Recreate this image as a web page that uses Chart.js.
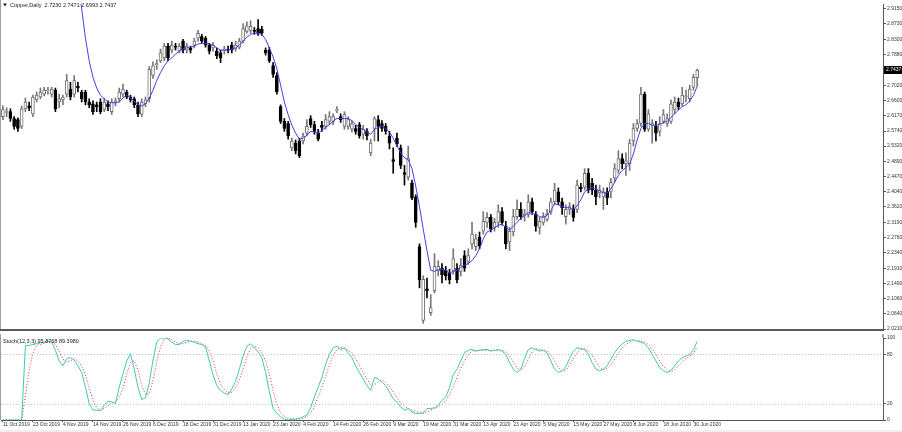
<!DOCTYPE html>
<html>
<head>
<meta charset="utf-8">
<script src="https://cdn.jsdelivr.net/npm/chart.js@4.4.1/dist/chart.umd.min.js"></script>
<style>
  html, body { margin: 0; padding: 0; background: #fff; }
  #wrap { position: relative; width: 902px; height: 432px; overflow: hidden; }
  canvas { position: absolute; left: 0; }
  #main { top: 0; }
  #stoch { top: 334px; }
</style>
</head>
<body>
<div id="wrap">
  <canvas id="main" width="902" height="334"></canvas>
  <canvas id="stoch" width="902" height="98"></canvas>
</div>
<script>
// Copper daily candles, 11 Oct 2019 - 1 Jul 2020
const symbolName = 'Copper,Daily';
const stochName = 'Stoch(12,3,3)';
const totalSlots = 235; // chart shift leaves empty space on the right

// date labels, one every 8 bars
const dateTicks = ['11 Oct 2019', '23 Oct 2019', '4 Nov 2019', '14 Nov 2019', '26 Nov 2019', '6 Dec 2019',
  '18 Dec 2019', '31 Dec 2019', '13 Jan 2020', '23 Jan 2020', '4 Feb 2020', '14 Feb 2020', '26 Feb 2020',
  '9 Mar 2020', '19 Mar 2020', '31 Mar 2020', '13 Apr 2020', '23 Apr 2020', '5 May 2020', '15 May 2020',
  '27 May 2020', '8 Jun 2020', '18 Jun 2020', '30 Jun 2020'];

const priceTicks = ['2.9150', '2.8730', '2.8300', '2.7880', '2.7020', '2.6600', '2.6170', '2.5740', '2.5320',
  '2.4890', '2.4470', '2.4040', '2.3620', '2.3190', '2.2760', '2.2340', '2.1910', '2.1490', '2.1060',
  '2.0640', '2.0210'];
const priceMin = 2.0183;
const priceMax = 2.9287;

const stochTicks = [0, 20, 80, 100];
const stochLevels = [20, 80];

const opens = [
  2.614, 2.626, 2.628, 2.609, 2.606, 2.587, 2.636, 2.644, 2.622, 2.661,
  2.669, 2.677, 2.686, 2.677, 2.688, 2.655, 2.661, 2.677, 2.691, 2.677,
  2.699, 2.683, 2.683, 2.655, 2.650, 2.647, 2.655, 2.634, 2.650, 2.628,
  2.655, 2.664, 2.677, 2.683, 2.669, 2.664, 2.647, 2.620, 2.650, 2.664,
  2.729, 2.759, 2.770, 2.778, 2.811, 2.800, 2.811, 2.797, 2.825, 2.800,
  2.806, 2.814, 2.833, 2.838, 2.833, 2.814, 2.806, 2.797, 2.792, 2.800,
  2.803, 2.814, 2.803, 2.808, 2.825, 2.852, 2.855, 2.855, 2.860, 2.858,
  2.800, 2.800, 2.757, 2.729, 2.642, 2.601, 2.595, 2.527, 2.540, 2.546,
  2.546, 2.568, 2.609, 2.592, 2.568, 2.590, 2.587, 2.601, 2.601, 2.631,
  2.614, 2.587, 2.587, 2.579, 2.581, 2.592, 2.565, 2.573, 2.513, 2.581,
  2.606, 2.595, 2.587, 2.560, 2.494, 2.554, 2.527, 2.458, 2.445, 2.428,
  2.390, 2.251, 2.045, 2.133, 2.067, 2.128, 2.183, 2.191, 2.185, 2.177,
  2.185, 2.191, 2.182, 2.226, 2.210, 2.259, 2.251, 2.278, 2.294, 2.319,
  2.333, 2.305, 2.319, 2.349, 2.308, 2.264, 2.292, 2.335, 2.355, 2.338,
  2.341, 2.376, 2.341, 2.305, 2.319, 2.327, 2.349, 2.376, 2.404, 2.376,
  2.335, 2.355, 2.355, 2.355, 2.417, 2.417, 2.456, 2.428, 2.409, 2.401,
  2.390, 2.404, 2.404, 2.442, 2.464, 2.497, 2.483, 2.483, 2.546, 2.581,
  2.595, 2.677, 2.579, 2.590, 2.587, 2.573, 2.601, 2.595, 2.601, 2.634,
  2.655, 2.650, 2.669, 2.664, 2.696, 2.7230
];
const highs = [
  2.644, 2.639, 2.636, 2.614, 2.611, 2.644, 2.666, 2.655, 2.674, 2.683,
  2.694, 2.696, 2.696, 2.696, 2.694, 2.677, 2.674, 2.732, 2.710, 2.729,
  2.710, 2.688, 2.688, 2.664, 2.658, 2.655, 2.664, 2.666, 2.658, 2.664,
  2.666, 2.694, 2.705, 2.688, 2.674, 2.669, 2.655, 2.664, 2.669, 2.754,
  2.767, 2.773, 2.803, 2.819, 2.819, 2.825, 2.819, 2.819, 2.830, 2.819,
  2.811, 2.833, 2.855, 2.844, 2.838, 2.819, 2.822, 2.806, 2.800, 2.811,
  2.811, 2.822, 2.825, 2.833, 2.874, 2.879, 2.882, 2.863, 2.885, 2.866,
  2.806, 2.808, 2.765, 2.737, 2.647, 2.609, 2.601, 2.554, 2.549, 2.554,
  2.568, 2.606, 2.617, 2.601, 2.579, 2.601, 2.620, 2.628, 2.622, 2.642,
  2.622, 2.628, 2.614, 2.603, 2.590, 2.598, 2.590, 2.581, 2.551, 2.614,
  2.617, 2.603, 2.595, 2.573, 2.527, 2.568, 2.535, 2.478, 2.532, 2.437,
  2.396, 2.259, 2.170, 2.163, 2.117, 2.232, 2.212, 2.204, 2.196, 2.188,
  2.245, 2.204, 2.218, 2.240, 2.245, 2.319, 2.286, 2.292, 2.349, 2.346,
  2.341, 2.330, 2.368, 2.360, 2.322, 2.305, 2.355, 2.382, 2.374, 2.355,
  2.396, 2.387, 2.349, 2.333, 2.346, 2.355, 2.387, 2.428, 2.415, 2.387,
  2.368, 2.374, 2.368, 2.437, 2.428, 2.469, 2.469, 2.442, 2.423, 2.423,
  2.415, 2.415, 2.442, 2.483, 2.519, 2.510, 2.513, 2.551, 2.595, 2.606,
  2.696, 2.683, 2.634, 2.606, 2.601, 2.614, 2.634, 2.622, 2.661, 2.669,
  2.666, 2.696, 2.688, 2.702, 2.732, 2.7471
];
const lows = [
  2.606, 2.614, 2.601, 2.579, 2.573, 2.581, 2.628, 2.631, 2.614, 2.655,
  2.664, 2.672, 2.677, 2.669, 2.628, 2.639, 2.647, 2.669, 2.661, 2.669,
  2.683, 2.655, 2.647, 2.639, 2.620, 2.628, 2.622, 2.628, 2.631, 2.620,
  2.644, 2.655, 2.669, 2.664, 2.655, 2.639, 2.614, 2.614, 2.642, 2.655,
  2.721, 2.746, 2.765, 2.770, 2.770, 2.792, 2.800, 2.792, 2.792, 2.792,
  2.792, 2.806, 2.825, 2.819, 2.808, 2.789, 2.797, 2.776, 2.765, 2.789,
  2.792, 2.792, 2.797, 2.803, 2.819, 2.847, 2.847, 2.844, 2.841, 2.841,
  2.786, 2.765, 2.724, 2.677, 2.595, 2.573, 2.551, 2.519, 2.510, 2.500,
  2.538, 2.560, 2.584, 2.565, 2.546, 2.573, 2.579, 2.592, 2.592, 2.625,
  2.598, 2.579, 2.579, 2.571, 2.565, 2.554, 2.551, 2.549, 2.505, 2.546,
  2.546, 2.573, 2.565, 2.524, 2.456, 2.530, 2.469, 2.423, 2.437, 2.382,
  2.305, 2.136, 2.037, 2.108, 2.059, 2.122, 2.169, 2.150, 2.158, 2.147,
  2.174, 2.150, 2.169, 2.182, 2.201, 2.245, 2.240, 2.245, 2.286, 2.305,
  2.292, 2.294, 2.305, 2.311, 2.245, 2.240, 2.281, 2.327, 2.327, 2.322,
  2.333, 2.341, 2.294, 2.286, 2.311, 2.322, 2.341, 2.368, 2.368, 2.341,
  2.314, 2.341, 2.322, 2.346, 2.404, 2.409, 2.401, 2.396, 2.368, 2.387,
  2.355, 2.368, 2.387, 2.431, 2.456, 2.469, 2.450, 2.464, 2.532, 2.573,
  2.587, 2.573, 2.573, 2.540, 2.546, 2.560, 2.595, 2.587, 2.595, 2.622,
  2.634, 2.644, 2.655, 2.655, 2.688, 2.6993
];
const closes = [
  2.634, 2.628, 2.609, 2.587, 2.581, 2.636, 2.655, 2.639, 2.669, 2.674,
  2.683, 2.688, 2.688, 2.691, 2.636, 2.664, 2.669, 2.715, 2.669, 2.715,
  2.694, 2.664, 2.655, 2.647, 2.628, 2.642, 2.628, 2.655, 2.642, 2.655,
  2.658, 2.683, 2.691, 2.669, 2.661, 2.647, 2.622, 2.655, 2.661, 2.746,
  2.756, 2.762, 2.792, 2.811, 2.778, 2.814, 2.808, 2.811, 2.800, 2.811,
  2.800, 2.825, 2.847, 2.825, 2.814, 2.797, 2.814, 2.784, 2.778, 2.803,
  2.800, 2.800, 2.814, 2.825, 2.860, 2.868, 2.866, 2.852, 2.847, 2.847,
  2.792, 2.770, 2.732, 2.683, 2.601, 2.581, 2.560, 2.546, 2.519, 2.505,
  2.560, 2.587, 2.592, 2.573, 2.551, 2.584, 2.606, 2.614, 2.614, 2.634,
  2.606, 2.620, 2.606, 2.595, 2.573, 2.560, 2.579, 2.560, 2.540, 2.609,
  2.587, 2.581, 2.573, 2.540, 2.489, 2.538, 2.478, 2.453, 2.497, 2.387,
  2.319, 2.158, 2.160, 2.128, 2.081, 2.196, 2.196, 2.172, 2.169, 2.158,
  2.218, 2.158, 2.199, 2.191, 2.226, 2.286, 2.273, 2.254, 2.322, 2.333,
  2.300, 2.319, 2.349, 2.319, 2.259, 2.294, 2.335, 2.355, 2.335, 2.341,
  2.376, 2.349, 2.308, 2.322, 2.335, 2.341, 2.376, 2.409, 2.376, 2.360,
  2.355, 2.363, 2.333, 2.423, 2.412, 2.456, 2.409, 2.409, 2.390, 2.409,
  2.404, 2.387, 2.431, 2.469, 2.497, 2.483, 2.491, 2.540, 2.581, 2.595,
  2.677, 2.579, 2.622, 2.595, 2.568, 2.595, 2.620, 2.609, 2.650, 2.655,
  2.642, 2.674, 2.672, 2.691, 2.724, 2.7437
];

// blue moving average on the price window (starts above the top edge)
const maLine = [
  null, null, null, null, null, null, null, null, null, null,
  null, null, null, null, null, null, null, null, null, null,
  2.990, 2.915, 2.833, 2.770, 2.724, 2.694, 2.674, 2.664, 2.655, 2.653,
  2.653, 2.655, 2.666, 2.674, 2.666, 2.658, 2.647, 2.644, 2.650, 2.666,
  2.688, 2.715, 2.737, 2.756, 2.770, 2.778, 2.789, 2.797, 2.803, 2.806,
  2.808, 2.811, 2.817, 2.819, 2.819, 2.817, 2.814, 2.806, 2.800, 2.800,
  2.800, 2.803, 2.806, 2.814, 2.825, 2.836, 2.844, 2.847, 2.847, 2.844,
  2.830, 2.806, 2.781, 2.748, 2.702, 2.655, 2.620, 2.590, 2.568, 2.551,
  2.554, 2.562, 2.573, 2.571, 2.568, 2.576, 2.584, 2.592, 2.601, 2.609,
  2.609, 2.609, 2.609, 2.603, 2.592, 2.584, 2.579, 2.571, 2.565, 2.579,
  2.584, 2.587, 2.581, 2.571, 2.554, 2.532, 2.513, 2.499, 2.494, 2.469,
  2.420, 2.363, 2.300, 2.240, 2.185, 2.182, 2.188, 2.188, 2.185, 2.177,
  2.182, 2.185, 2.193, 2.199, 2.204, 2.212, 2.226, 2.245, 2.273, 2.292,
  2.297, 2.303, 2.311, 2.314, 2.305, 2.297, 2.308, 2.319, 2.330, 2.338,
  2.346, 2.344, 2.341, 2.335, 2.333, 2.338, 2.352, 2.371, 2.368, 2.363,
  2.360, 2.360, 2.355, 2.365, 2.382, 2.404, 2.412, 2.415, 2.412, 2.407,
  2.401, 2.401, 2.412, 2.431, 2.450, 2.464, 2.472, 2.483, 2.510, 2.549,
  2.581, 2.595, 2.595, 2.590, 2.590, 2.592, 2.598, 2.601, 2.612, 2.622,
  2.633, 2.642, 2.647, 2.658, 2.674, 2.699
];

// stochastic %K (main) and %D (signal)
const stochK = [
  0, 0, 0, 0, 0, 0, 91, 91, 92, 93,
  94, 95, 96, 95, 85, 72, 66, 75, 76, 73,
  66, 58, 40, 20, 12, 12, 11, 18, 23, 22,
  20, 40, 56, 72, 81, 62, 40, 25, 27, 45,
  73, 95, 100, 100, 99, 95, 92, 92, 96, 97,
  96, 95, 93, 92, 89, 72, 55, 42, 36, 33,
  31, 38, 47, 62, 78, 90, 93, 88, 83, 76,
  58, 35, 14, 8, 4, 1, 0, 1, 1, 2,
  4, 6, 15, 28, 40, 52, 68, 80, 88, 90,
  86, 88, 82, 76, 66, 58, 50, 42, 36, 52,
  50, 46, 42, 34, 26, 22, 16, 12, 14, 10,
  8, 8, 9, 14, 14, 15, 18, 24, 28, 40,
  55, 62, 72, 82, 85, 86, 84, 85, 86, 86,
  84, 85, 86, 84, 80, 70, 62, 58, 62, 75,
  86, 88, 86, 84, 85, 82, 72, 62, 58, 60,
  65, 75, 84, 88, 87, 86, 80, 70, 62, 60,
  62, 66, 74, 82, 88, 93, 96, 97, 98, 96,
  95, 93, 88, 80, 72, 64, 60, 58, 60, 66,
  72, 76, 78, 80, 86, 95.8768
];
const stochD = [
  0, 0, 0, 0, 0, 0, 30, 61, 81, 91,
  92, 94, 95, 95, 92, 84, 74, 71, 72, 75,
  72, 66, 55, 39, 24, 15, 12, 14, 17, 21,
  22, 27, 39, 56, 70, 72, 61, 42, 31, 32,
  48, 71, 89, 98, 100, 98, 95, 93, 93, 95,
  96, 96, 95, 93, 91, 84, 72, 56, 44, 37,
  33, 34, 39, 49, 62, 77, 87, 90, 88, 82,
  72, 56, 36, 19, 9, 4, 2, 1, 1, 1,
  2, 4, 8, 16, 28, 40, 53, 67, 79, 86,
  88, 88, 85, 82, 75, 67, 58, 50, 43, 43,
  46, 49, 46, 41, 34, 27, 21, 17, 14, 12,
  11, 9, 8, 10, 12, 14, 16, 19, 23, 31,
  41, 52, 63, 72, 80, 84, 85, 85, 85, 85,
  85, 85, 85, 85, 83, 78, 71, 63, 61, 65,
  74, 83, 87, 86, 85, 84, 80, 72, 64, 60,
  61, 67, 75, 82, 86, 87, 84, 79, 71, 64,
  61, 63, 67, 74, 81, 88, 92, 95, 97, 97,
  96, 95, 92, 87, 80, 72, 65, 61, 59, 61,
  66, 71, 75, 78, 81, 89.398
];

const axisFont = { family: 'Liberation Sans', size: 5 };
const axisColor = '#555';
const labelColor = '#333';
const last = closes.length - 1;

// category slots: a date on every 8th bar, blanks elsewhere
const slotLabels = [];
for (let i = 0; i < totalSlots; i++) {
  slotLabels.push(i % 8 === 0 && dateTicks[i / 8] ? dateTicks[i / 8] : '');
}

const isUp = closes.map((c, i) => c >= opens[i]);
const bodies = closes.map((c, i) => [Math.min(opens[i], c), Math.max(opens[i], c)]);
const wicks = lows.map((l, i) => [l, highs[i]]);

const mainDecor = {
  id: 'mainDecor',
  afterDraw(chart) {
    const { ctx, chartArea: a, scales: { y } } = chart;
    ctx.save();
    // left frame and window separator
    ctx.fillStyle = '#a0a0a0';
    ctx.fillRect(0, 0, 1, a.bottom);
    ctx.fillStyle = '#5a5a5a';
    ctx.fillRect(0, a.bottom - 1, a.right, 2);

    // title
    ctx.fillStyle = '#222';
    ctx.beginPath();
    ctx.moveTo(3, 3.5);
    ctx.lineTo(7, 3.5);
    ctx.lineTo(5, 6.5);
    ctx.closePath();
    ctx.fill();
    ctx.font = '5.5px "Liberation Sans"';
    ctx.textBaseline = 'middle';
    ctx.fillText(symbolName + '  ' + opens[last].toFixed(4) + ' ' + highs[last].toFixed(4) + ' ' +
      lows[last].toFixed(4) + ' ' + closes[last].toFixed(4), 10, 5);

    // last price box
    const py = Math.round(y.getPixelForValue(closes[last]));
    ctx.fillStyle = '#000';
    ctx.fillRect(a.right + 1, py - 4, 902 - a.right - 1, 8);
    ctx.fillStyle = '#fff';
    ctx.font = '5px "Liberation Sans"';
    ctx.fillText(closes[last].toFixed(4), a.right + 3, py);
    ctx.restore();
  }
};

new Chart(document.getElementById('main'), {
  type: 'bar',
  data: {
    labels: slotLabels,
    datasets: [
      {
        type: 'line',
        data: maLine,
        borderColor: '#4040f0',
        borderWidth: 1,
        pointRadius: 0,
        tension: 0,
        order: 0
      },
      {
        data: bodies,
        backgroundColor: isUp.map(u => u ? '#ffffff' : '#000000'),
        borderColor: isUp.map(u => u ? '#707070' : '#000000'),
        borderWidth: 1,
        borderSkipped: false,
        barThickness: 3,
        grouped: false,
        order: 1
      },
      {
        data: wicks,
        backgroundColor: isUp.map(u => u ? '#777777' : '#000000'),
        barThickness: 1,
        grouped: false,
        order: 2
      }
    ]
  },
  options: {
    responsive: false,
    animation: false,
    layout: { padding: { left: 1, top: 0, right: 0, bottom: 1 } },
    plugins: { legend: { display: false }, tooltip: { enabled: false } },
    scales: {
      x: { display: false, offset: true },
      y: {
        position: 'right',
        min: priceMin,
        max: priceMax,
        afterFit(scale) { scale.width = 19; },
        afterBuildTicks(scale) { scale.ticks = priceTicks.map(v => ({ value: Number(v) })); },
        ticks: {
          autoSkip: false,
          font: axisFont,
          color: labelColor,
          padding: 1,
          callback: (v, i) => priceTicks[i]
        },
        grid: { drawOnChartArea: false, tickLength: 3, color: axisColor },
        border: { color: axisColor }
      }
    }
  },
  plugins: [mainDecor]
});

const stochDecor = {
  id: 'stochDecor',
  beforeDatasetsDraw(chart) {
    const { ctx, chartArea: a, scales: { y } } = chart;
    ctx.save();
    ctx.strokeStyle = '#c4c4c4';
    ctx.lineWidth = 1;
    ctx.setLineDash([1, 2]);
    stochLevels.forEach(level => {
      const ly = Math.round(y.getPixelForValue(level)) + 0.5;
      ctx.beginPath();
      ctx.moveTo(a.left, ly);
      ctx.lineTo(a.right, ly);
      ctx.stroke();
    });
    ctx.restore();
  },
  afterDraw(chart) {
    const { ctx, chartArea: a } = chart;
    ctx.save();
    ctx.fillStyle = '#a0a0a0';
    ctx.fillRect(0, 0, 1, a.bottom);
    ctx.fillStyle = axisColor;
    ctx.fillRect(Math.round(a.right) - 0.5, 0, 1, a.top);
    ctx.fillStyle = '#222';
    ctx.font = '5.5px "Liberation Sans"';
    ctx.textBaseline = 'middle';
    ctx.fillText(stochName + ' ' + stochK[last].toFixed(4) + ' ' + stochD[last].toFixed(4), 3, 7);
    ctx.fillStyle = '#efefef';
    ctx.fillRect(0, 96, 902, 2);
    ctx.restore();
  }
};

new Chart(document.getElementById('stoch'), {
  type: 'line',
  data: {
    labels: slotLabels,
    datasets: [
      {
        data: stochK,
        borderColor: '#3ec8b8',
        borderWidth: 1,
        pointRadius: 0,
        tension: 0
      },
      {
        data: stochD,
        borderColor: '#ff2a2a',
        borderWidth: 1,
        borderDash: [1, 2],
        pointRadius: 0,
        tension: 0
      }
    ]
  },
  options: {
    responsive: false,
    animation: false,
    layout: { padding: { left: 1, top: 2, right: 0, bottom: 0 } },
    plugins: { legend: { display: false }, tooltip: { enabled: false } },
    scales: {
      x: {
        offset: true,
        afterFit(scale) { scale.height = 12; },
        afterBuildTicks(scale) { scale.ticks = scale.ticks.filter(t => slotLabels[t.value] !== ''); },
        ticks: {
          autoSkip: false,
          maxRotation: 0,
          minRotation: 0,
          align: 'start',
          padding: 0,
          font: axisFont,
          color: labelColor
        },
        grid: { drawOnChartArea: false, offset: false, tickLength: 2, color: axisColor },
        border: { color: axisColor }
      },
      y: {
        position: 'right',
        min: 0,
        max: 100,
        afterFit(scale) { scale.width = 19; },
        afterBuildTicks(scale) { scale.ticks = stochTicks.map(v => ({ value: v })); },
        ticks: { autoSkip: false, font: axisFont, color: labelColor, padding: 1 },
        grid: { drawOnChartArea: false, tickLength: 3, color: axisColor },
        border: { color: axisColor }
      }
    }
  },
  plugins: [stochDecor]
});
</script>
</body>
</html>
